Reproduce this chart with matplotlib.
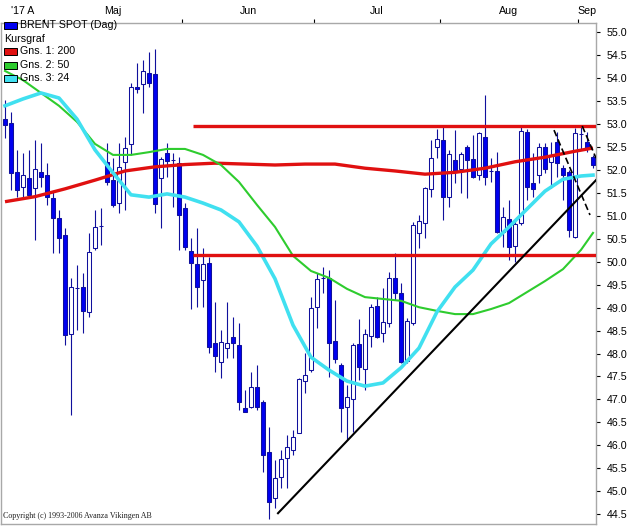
import matplotlib
matplotlib.use('Agg')
import matplotlib.pyplot as plt
from matplotlib.patches import Rectangle
from matplotlib.ticker import FixedLocator, FixedFormatter, NullFormatter

plt.rcParams['font.family'] = ['Liberation Sans', 'DejaVu Sans']

# ---------------- data ----------------
month_labels = ["'17 A", "Maj", "Jun", "Jul", "Aug", "Sep"]
month_starts = [0, 7, 30, 52, 73, 96]   # candle index where each month starts

opens = [53.11, 53.03, 51.96, 51.63, 51.83, 51.61, 51.96, 51.89, 51.39, 50.95,
         50.58, 48.43, 49.43, 49.45, 48.91, 50.30, 50.78, 52.18, 51.78, 51.28,
         52.18, 52.57, 53.81, 53.88, 54.12, 54.09, 51.83, 52.37, 52.22, 52.15,
         51.17, 50.24, 49.95, 49.60, 49.97, 48.23, 47.82, 48.12, 48.36, 48.19,
         46.81, 46.84, 47.27, 46.94, 45.85, 44.85, 45.31, 45.72, 45.90, 46.27,
         47.40, 47.64, 49.01, 49.65, 49.65, 48.27, 47.75, 46.84, 47.01, 48.21,
         47.66, 48.38, 49.04, 48.45, 48.67, 49.65, 49.32, 47.84, 48.67, 50.63,
         50.85, 51.59, 52.50, 52.65, 51.41, 52.22, 52.02, 52.50, 52.24, 51.89,
         52.72, 51.98, 51.98, 50.65, 50.93, 50.34, 50.85, 52.83, 51.72, 51.89,
         52.50, 52.18, 52.61, 52.04, 51.96, 50.54, 52.79, 52.61, 52.28]

highs = [53.53, 53.27, 52.44, 52.37, 52.44, 52.65, 52.59, 52.15, 51.52, 51.13,
         50.74, 49.65, 49.93, 49.76, 50.63, 51.13, 51.17, 52.59, 52.26, 52.59,
         52.72, 53.90, 54.33, 54.40, 54.57, 54.64, 52.28, 52.59, 52.37, 52.28,
         51.28, 50.52, 50.74, 50.30, 50.10, 49.12, 48.51, 49.12, 48.80, 48.67,
         47.21, 47.60, 47.75, 46.99, 46.40, 45.68, 45.90, 46.22, 46.33, 47.47,
         48.01, 49.23, 49.76, 49.89, 49.82, 49.17, 47.79, 47.31, 48.23, 48.75,
         48.54, 49.08, 49.23, 49.43, 49.78, 50.19, 49.54, 48.77, 50.87, 51.02,
         51.63, 52.65, 52.89, 52.94, 52.44, 52.87, 52.39, 52.55, 52.76, 52.83,
         53.64, 52.26, 52.39, 51.19, 51.35, 50.91, 52.94, 52.89, 52.37, 52.59,
         52.59, 52.61, 52.83, 52.11, 52.00, 52.92, 52.94, 52.83, 52.33]

lows = [52.70, 51.56, 51.41, 51.41, 51.41, 50.48, 51.63, 51.24, 50.19, 50.19,
        48.19, 46.66, 48.51, 48.45, 48.80, 50.26, 50.37, 51.67, 51.19, 51.06,
        51.13, 52.33, 53.68, 53.24, 53.81, 51.06, 50.74, 51.85, 51.19, 50.26,
        50.26, 48.97, 49.01, 49.01, 48.01, 47.60, 47.47, 47.90, 47.90, 46.77,
        46.73, 46.81, 46.77, 45.42, 44.39, 44.63, 45.07, 45.07, 45.79, 46.27,
        47.14, 47.60, 48.56, 49.32, 47.49, 47.79, 46.29, 46.12, 46.29, 47.42,
        47.21, 48.14, 48.34, 48.25, 48.58, 49.17, 47.79, 47.79, 48.62, 50.30,
        50.52, 51.41, 52.26, 50.91, 51.19, 51.72, 51.50, 51.39, 51.83, 51.78,
        51.67, 51.74, 50.63, 50.32, 50.04, 50.00, 50.80, 51.35, 51.41, 51.72,
        51.94, 51.61, 51.85, 51.35, 50.54, 50.52, 52.44, 52.39, 52.04]

closes = [52.98, 51.94, 51.56, 51.89, 51.46, 52.02, 51.85, 51.41, 50.95, 50.52,
          48.40, 49.45, 49.43, 48.93, 50.21, 50.76, 50.78, 51.74, 51.24, 52.07,
          52.48, 53.81, 53.77, 54.16, 53.90, 51.26, 52.24, 52.20, 52.22, 51.02,
          50.32, 49.97, 49.45, 49.95, 48.14, 47.95, 48.25, 48.23, 48.23, 46.94,
          46.73, 47.27, 46.84, 45.79, 44.76, 45.29, 45.70, 45.96, 46.18, 47.45,
          47.53, 48.99, 49.63, 49.65, 48.23, 47.88, 46.81, 47.05, 48.19, 47.71,
          48.43, 49.01, 48.36, 48.69, 49.65, 49.32, 47.82, 48.71, 50.80, 50.89,
          51.61, 52.26, 52.68, 51.41, 52.35, 51.96, 52.35, 52.22, 51.85, 52.81,
          51.85, 51.98, 50.65, 50.98, 50.32, 50.82, 52.85, 51.63, 51.59, 52.50,
          52.02, 52.33, 52.15, 51.89, 50.69, 52.81, 52.79, 52.48, 52.11]

# moving averages (read at selected candle indices)
ma200_idx = [0, 5, 10, 15, 20, 25, 30, 35, 40, 45, 50, 55, 60, 65, 70, 75, 80, 85, 90, 95, 98]
ma200 = [51.31, 51.42, 51.59, 51.78, 51.98, 52.07, 52.12, 52.15, 52.13, 52.11, 52.13,
         52.13, 52.04, 51.98, 51.91, 51.95, 52.04, 52.18, 52.28, 52.41, 52.48]

ma_idx = [0, 3, 6, 9, 12, 15, 18, 21, 24, 27, 30, 33, 36, 39, 42, 45, 48, 51, 54, 57,
          60, 63, 66, 69, 72, 75, 78, 81, 84, 87, 90, 93, 96, 98]
ma50 = [54.16, 53.96, 53.68, 53.40, 53.05, 52.57, 52.33, 52.33, 52.39, 52.46, 52.46,
        52.33, 52.11, 51.74, 51.24, 50.76, 50.13, 49.80, 49.65, 49.41, 49.23, 49.19,
        49.15, 49.01, 48.93, 48.86, 48.86, 48.97, 49.10, 49.34, 49.58, 49.84, 50.26, 50.63]
ma24 = [53.40, 53.55, 53.68, 53.57, 53.11, 52.44, 51.94, 51.46, 51.41, 51.48, 51.41,
        51.28, 51.13, 50.87, 50.34, 49.63, 48.62, 47.92, 47.64, 47.40, 47.29, 47.36,
        47.69, 48.12, 48.91, 49.45, 49.82, 50.39, 50.76, 51.15, 51.54, 51.80, 51.87, 51.89]

# drawn support / resistance levels and trend lines (index, price)
levels = [52.96, 50.14]
levels_start = 31.3
trend_line = [(45.5, 44.52), (98.5, 51.78)]
dashed_lines = [[(91.5, 52.87), (97.5, 51.02)],
                [(96.2, 52.96), (98.5, 52.26)]]

legend_labels = ['BRENT SPOT (Dag)', 'Kursgraf', 'Gns. 1: 200', 'Gns. 2: 50', 'Gns. 3: 24']

# ---------------- styling ----------------
BLUE = '#0000F0'
WICK = '#10109C'
RED = '#E01010'
GREEN = '#2ECC2E'
CYAN = '#40E0F0'
FRAME = '#A8A8A8'
legend_colors = [BLUE, None, RED, GREEN, CYAN]

W, H = 632, 526
fig = plt.figure(figsize=(W / 100, H / 100), dpi=100)
fig.patch.set_facecolor('white')
L, R, T, B = 1, 596, 23, 524
ax = fig.add_axes([L / W, (H - B) / H, (R - L) / W, (B - T) / H])

n = len(opens)
xs = list(range(n))
ax.vlines(xs, lows, highs, color=WICK, lw=0.8, zorder=2)
bottoms = [min(o, c) for o, c in zip(opens, closes)]
heights = [abs(c - o) for o, c in zip(opens, closes)]
faces = ['white' if c >= o else BLUE for o, c in zip(opens, closes)]
ax.bar(xs, heights, bottom=bottoms, width=0.66, color=faces, edgecolor=WICK,
       linewidth=0.75, zorder=3)

ax.plot(ma200_idx, ma200, color=RED, lw=2.4, zorder=4, solid_joinstyle='round',
        solid_capstyle='butt')
ax.plot(ma_idx, ma50, color=GREEN, lw=1.5, zorder=4, solid_joinstyle='round')
ax.plot(ma_idx, ma24, color=CYAN, lw=2.6, zorder=4, solid_joinstyle='round')

xmin, xmax = -0.667, 98.5
for lv in levels:
    ax.plot([levels_start, xmax], [lv, lv], color=RED, lw=2.4, zorder=5, solid_capstyle='butt')

ax.plot([p[0] for p in trend_line], [p[1] for p in trend_line], color='black', lw=1.5, zorder=6)
for dl in dashed_lines:
    ax.plot([p[0] for p in dl], [p[1] for p in dl], color='black', lw=1.2,
            ls=(0, (4, 2)), zorder=6)

ax.set_xlim(xmin, xmax)
ax.set_ylim(44.285, 55.205)

# y axis on the right
yt = [44.5 + 0.5 * k for k in range(22)]
ax.yaxis.tick_right()
ax.set_yticks(yt)
ax.set_yticklabels(['%.1f' % v for v in yt])
ax.tick_params(axis='y', direction='out', length=3, width=0.8, pad=4.5,
               labelsize=7.7, colors='black')

# x axis (months) on top
ax.xaxis.tick_top()
bounds = [xmin] + [s - 0.5 for s in month_starts[1:]] + [xmax]
centers = [(bounds[k] + bounds[k + 1]) / 2 for k in range(len(month_labels))]
ax.xaxis.set_major_locator(FixedLocator([s - 0.5 for s in month_starts[1:]]))
ax.xaxis.set_major_formatter(NullFormatter())
ax.xaxis.set_minor_locator(FixedLocator(centers))
ax.xaxis.set_minor_formatter(FixedFormatter(month_labels))
ax.tick_params(axis='x', which='major', direction='out', length=3.2, width=0.8, colors='black')
ax.tick_params(axis='x', which='minor', length=0, pad=5, labelsize=7.7)
for sp in ax.spines.values():
    sp.set_color(FRAME)
    sp.set_linewidth(1.0)


def fp(px, py):
    return (px / W, 1 - py / H)


# legend (manual)
row_y = [25, 38.5, 51.5, 65, 78]
for lab, col, yc in zip(legend_labels, legend_colors, row_y):
    if col is None:
        fig.text(*fp(4.5, yc), lab, fontsize=7.7, va='center', ha='left')
    else:
        x0, y0 = fp(4, yc + 3.5)
        fig.add_artist(Rectangle((x0, y0), 13 / W, 7 / H, transform=fig.transFigure,
                                 facecolor=col, edgecolor='black', lw=0.7, zorder=10))
        fig.text(*fp(20.5, yc), lab, fontsize=7.7, va='center', ha='left', zorder=10)

fig.text(*fp(3, 516), 'Copyright (c) 1993-2006 Avanza Vikingen AB',
         family=['Liberation Serif', 'DejaVu Serif'], fontsize=5.8, va='center',
         ha='left', color='#202020')

fig.savefig('out.png', dpi=100)
